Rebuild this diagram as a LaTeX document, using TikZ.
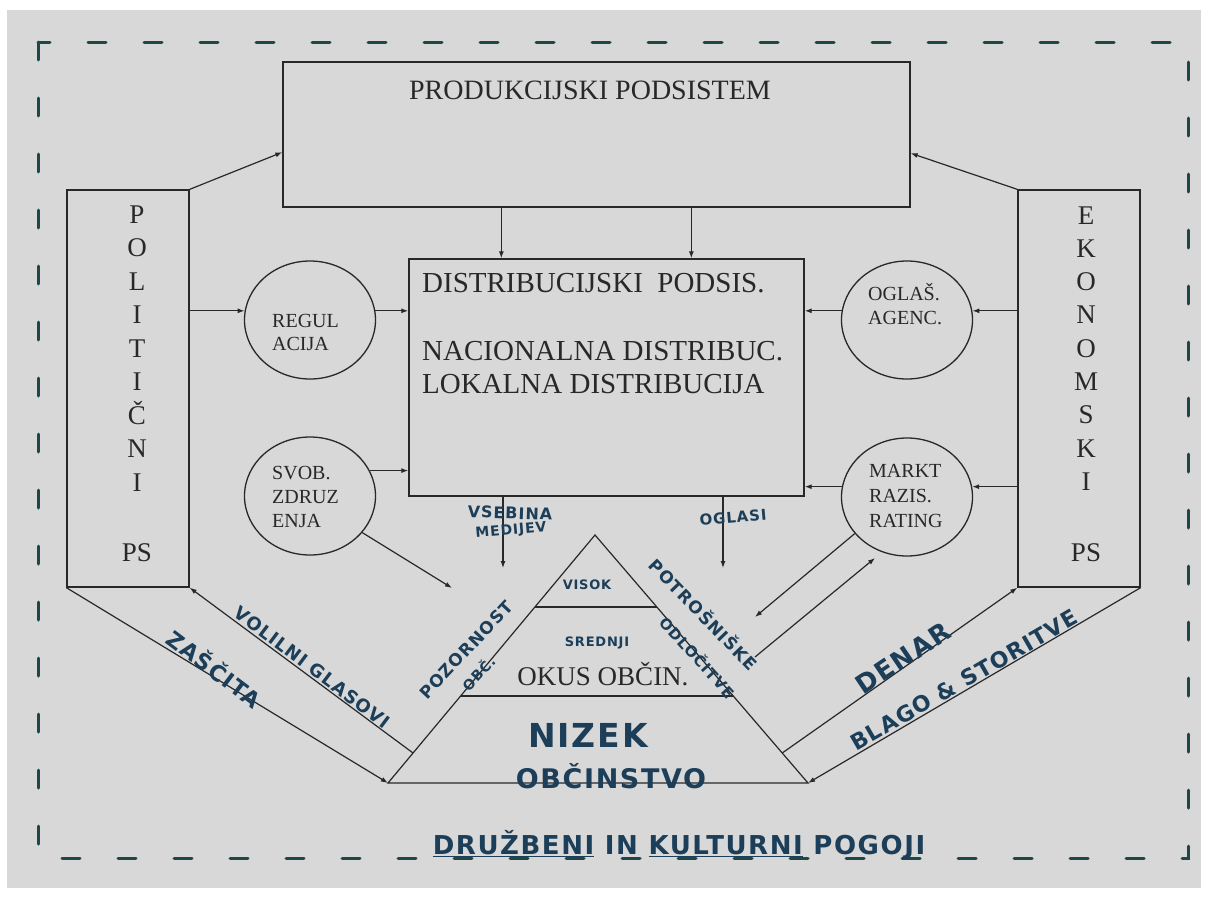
\documentclass[tikz,border=0pt]{standalone}
\usepackage{fontspec}
\setmainfont{Liberation Serif}
\newfontfamily\hand{DejaVu Sans}[LetterSpace=6]
\usetikzlibrary{shapes.geometric,arrows.meta,calc}
\definecolor{bg}{RGB}{216,216,216}
\definecolor{ink}{RGB}{40,40,40}
\definecolor{pen}{RGB}{28,62,88}
\definecolor{dashc}{RGB}{30,72,70}
\begin{document}
\begin{tikzpicture}[x=1pt,y=-1pt,
  box/.style={draw=ink, line width=1.3pt, inner sep=0pt},
  oval/.style={ellipse, draw=ink, line width=1.3pt, inner sep=0pt, minimum width=131pt, minimum height=118pt},
  conn/.style={draw=ink, line width=1.2pt, -{Latex[length=7pt,width=5pt]}},
  edge/.style={draw=ink, line width=1.2pt},
  ptxt/.style={font=\fontsize{#1}{#1}\selectfont, text=ink, inner sep=0pt},
  htxt/.style={font=\hand\bfseries\fontsize{#1}{#1}\selectfont, text=pen, inner sep=0pt},
]
\useasboundingbox (0,0) rectangle (1208,897);
\fill[white] (0,0) rectangle (1208,897);
\fill[bg] (7,10) rectangle (1201,888);
% hand-drawn dashed frame
\draw[dashc, line width=3pt, dash pattern=on 18pt off 38pt, line cap=round] (38,42) rectangle (1188,858);

% boxes
\node[box, minimum width=627pt, minimum height=145pt] (prod) at (596.5,134.5) {};
\node[box, minimum width=122pt, minimum height=397pt] (pol) at (128,388.5) {};
\node[box, minimum width=122pt, minimum height=397pt] (eko) at (1079,388.5) {};
\node[box, minimum width=395pt, minimum height=237pt] (dist) at (606.5,377.5) {};

% ellipses
\node[oval] (reg) at (310,320) {};
\node[oval] (svob) at (310,496) {};
\node[oval] (ogl) at (907,320) {};
\node[oval] (markt) at (907,497) {};

% triangle
\coordinate (apex) at (595,535);
\coordinate (tl) at (388,783);
\coordinate (tr) at (808,783);
\draw[edge, line join=miter] (tl) -- (apex) -- (tr) -- cycle;
\coordinate (l1) at ($(tl)!0.7097!(apex)$);
\coordinate (r1) at ($(tr)!0.7097!(apex)$);
\coordinate (l2) at ($(tl)!0.3508!(apex)$);
\coordinate (r2) at ($(tr)!0.3508!(apex)$);
\draw[edge] (l1) -- (r1);
\draw[edge] (l2) -- (r2);

% texts printed
\node[ptxt=28, anchor=base] (prodt) at (590,99) {PRODUKCIJSKI PODSISTEM};
\node[ptxt=29, anchor=base west] (dt1) at (422,292) {DISTRIBUCIJSKI\ \ PODSIS.};
\node[ptxt=29, anchor=base west] (dt2) at (422,360) {NACIONALNA DISTRIBUC.};
\node[ptxt=29, anchor=base west] (dt3) at (422,393) {LOKALNA DISTRIBUCIJA};
\foreach \L [count=\i] in {P,O,L,I,T,I,Č,N,I}
  \node[ptxt=27, anchor=base] (pl\i) at (137,{223+33.5*(\i-1)}) {\L};
\node[ptxt=27, anchor=base] (plps) at (137,561) {PS};
\foreach \L [count=\i] in {E,K,O,N,O,M,S,K,I}
  \node[ptxt=27, anchor=base] (ek\i) at (1086,{224+33.3*(\i-1)}) {\L};
\node[ptxt=27, anchor=base] (ekps) at (1086,561) {PS};

\node[ptxt=20, anchor=base west] (rg1) at (272,327) {REGUL};
\node[ptxt=20, anchor=base west] (rg2) at (272,350) {ACIJA};
\node[ptxt=20, anchor=base west] (sv1) at (272,479) {SVOB.};
\node[ptxt=20, anchor=base west] (sv2) at (272,503) {ZDRUZ};
\node[ptxt=20, anchor=base west] (sv3) at (272,527) {ENJA};
\node[ptxt=20, anchor=base west] (og1) at (868,300) {OGLAŠ.};
\node[ptxt=20, anchor=base west] (og2) at (868,324) {AGENC.};
\node[ptxt=20, anchor=base west] (mk1) at (869,477) {MARKT};
\node[ptxt=20, anchor=base west] (mk2) at (869,502) {RAZIS.};
\node[ptxt=20, anchor=base west] (mk3) at (869,527) {RATING};
\node[ptxt=27, anchor=base] (okus) at (603,685) {OKUS OBČIN.};

% connectors
\coordinate (d1) at ($(dist.north west)+(93,0)$);
\coordinate (d2) at ($(dist.north west)+(283,0)$);
\draw[conn] (prod.south -| d1) -- (d1);
\draw[conn] (prod.south -| d2) -- (d2);
\draw[conn] (pol.north east) -- ($(prod.south west)!0.379!(prod.north west)$);
\draw[conn] (eko.north west) -- ($(prod.south east)!0.372!(prod.north east)$);
\draw[conn] (pol.east |- reg.172) -- (reg.172);
\draw[conn] (reg.8) -- (dist.west |- reg.8);
\draw[conn] (svob.23) -- (dist.west |- svob.23);
\draw[conn] (eko.west |- ogl.8) -- (ogl.8);
\draw[conn] (ogl.172) -- (dist.east |- ogl.172);
\draw[conn] (eko.west |- markt.9) -- (markt.9);
\draw[conn] (markt.171) -- (dist.east |- markt.171);
\coordinate (v1) at (503,568);
\coordinate (o1) at (723,568);
\draw[conn] (dist.south -| v1) -- (v1);
\draw[conn] (dist.south -| o1) -- (o1);
\coordinate (s1) at (452,588);
\draw[conn] (svob.325) -- (s1);
\coordinate (m1) at (755,617);
\coordinate (m2) at (755,657);
\coordinate (m3) at (875,558);
\draw[conn] (markt.215) -- (m1);
\draw[conn] (m2) -- (m3);
\coordinate (vg) at ($(tl)!0.121!(apex)$);
\coordinate (dn) at ($(tr)!0.121!(apex)$);
\draw[conn] (vg) -- (pol.south east);
\draw[conn] (pol.south west) -- (tl);
\draw[conn] (dn) -- (eko.south west);
\draw[conn] (eko.south east) -- (tr);

% handwritten labels
\node[htxt=16, rotate=-2] (hv1) at (510,513) {VSEBINA};
\node[htxt=14, rotate=5] (hv2) at (511,531) {MEDIJEV};
\node[htxt=15, rotate=5] (hog) at (733,517) {OGLASI};
\node[htxt=13] (hvis) at (587,585) {VISOK};
\node[htxt=13] (hsr) at (597,643) {SREDNJI};
\node[htxt=33] (hniz) at (588,735) {NIZEK};
\node[htxt=27] (hobc) at (611,776) {OBČINSTVO};
\node[htxt=17, rotate=47] (hpoz) at (466,650) {POZORNOST};
\node[htxt=14, rotate=47] (hpoz2) at (478,673) {OBČ.};
\node[htxt=17, rotate=-46] (hpot) at (704,614) {POTROŠNIŠKE};
\node[htxt=15, rotate=-48] (hodl) at (698,657) {ODLOČITVE};
\node[htxt=18, rotate=-37] (hvol) at (312,667) {VOLILNI GLASOVI};
\node[htxt=22, rotate=-37] (hzas) at (215,668) {ZAŠČITA};
\node[htxt=26, rotate=34] (hden) at (903,658) {DENAR};
\node[htxt=22, rotate=30] (hbla) at (964,680) {BLAGO \& STORITVE};
\node[htxt=26] (hbot) at (679,845) {\underline{DRUŽBENI} IN \underline{KULTURNI} POGOJI};
\end{tikzpicture}
\end{document}
